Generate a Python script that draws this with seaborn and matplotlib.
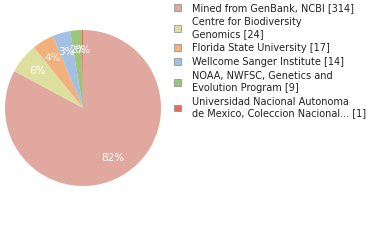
import math
import matplotlib
matplotlib.use("Agg")
import matplotlib.pyplot as plt
import seaborn as sns

sns.set_style("white")
plt.rcParams['font.family'] = ['DejaVu Sans']

labels = [
    "Mined from GenBank, NCBI [314]",
    "Centre for Biodiversity\nGenomics [24]",
    "Florida State University [17]",
    "Wellcome Sanger Institute [14]",
    "NOAA, NWFSC, Genetics and\nEvolution Program [9]",
    "Universidad Nacional Autonoma\nde Mexico, Coleccion Nacional... [1]",
]
counts = [314, 24, 17, 14, 9, 1]
colors = ["#e0a89f", "#dde09c", "#f2b07c", "#a3bfe2", "#9dc47b", "#e06f5a"]

fig = plt.figure(figsize=(3.8, 2.4), dpi=100)
ax = fig.add_axes([5 / 380, (240 - 186) / 240, 156 / 380, 156 / 240])

wedges, texts, autotexts = ax.pie(
    counts, colors=colors, startangle=90, counterclock=False,
    autopct=lambda p: f"{math.floor(p + 1e-9)}%", pctdistance=0.75,
    wedgeprops=dict(linewidth=0),
    textprops=dict(color="white", fontsize=7.5),
)
ax.set_aspect("equal")
ax.set_xlim(-1, 1)
ax.set_ylim(-1, 1)

leg = fig.legend(
    wedges, labels, loc="upper left", bbox_to_anchor=(174 / 380, 1 - 3 / 240),
    frameon=False, fontsize=7, handlelength=0.7, handleheight=0.7,
    handletextpad=1.1, labelspacing=0.42, borderaxespad=0, borderpad=0,
    labelcolor="#222222",
)
for h in leg.legend_handles:
    h.set_edgecolor("#888888")
    h.set_linewidth(0.5)

fig.savefig("out.png", dpi=100)
